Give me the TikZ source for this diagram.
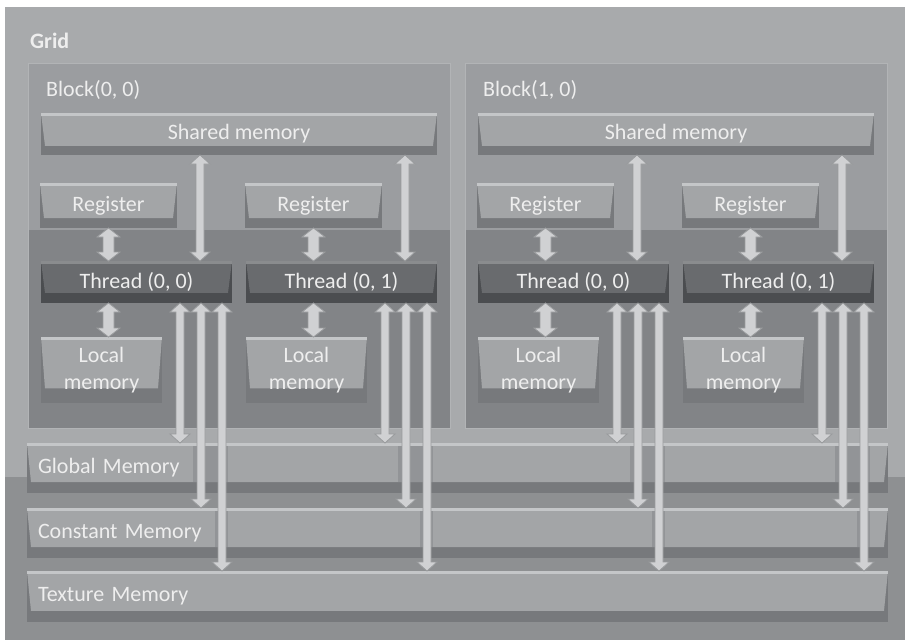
\documentclass[tikz,border=0pt]{standalone}
\usepackage{fontspec}
\setmainfont{Carlito}
\usetikzlibrary{calc}
\definecolor{gridup}{HTML}{A8AAAC}
\definecolor{griddn}{HTML}{8E9092}
\definecolor{blockup}{HTML}{9B9DA0}
\definecolor{blockdn}{HTML}{828487}
\definecolor{blockedge}{HTML}{B2B4B6}
\definecolor{barface}{HTML}{A3A5A7}
\definecolor{barbase}{HTML}{77797C}
\definecolor{barhi}{HTML}{C4C6C8}
\definecolor{barseam}{HTML}{929497}
\definecolor{thrface}{HTML}{696B6E}
\definecolor{thrbase}{HTML}{4B4D50}
\definecolor{thrhi}{HTML}{8A8C8E}
\definecolor{arrfill}{HTML}{D0D1D3}
\definecolor{arredge}{HTML}{999B9D}
\definecolor{txt}{HTML}{EEEEEE}
\newcommand\fs{\fontsize{22}{27}\selectfont}
\newcommand\bidir[5]{%
  \path[arrowsty] let \p1=(#1), \p2=(#2) in
    (\x1,\y1) -- (\x1+#4pt,\y1-#5pt) -- (\x1+#3pt,\y1-#5pt) -- (\x1+#3pt,\y2+#5pt)
    -- (\x1+#4pt,\y2+#5pt) -- (\x1,\y2) -- (\x1-#4pt,\y2+#5pt) -- (\x1-#3pt,\y2+#5pt)
    -- (\x1-#3pt,\y1-#5pt) -- (\x1-#4pt,\y1-#5pt) -- cycle;}
\tikzset{
  box/.style={inner sep=0pt, outer sep=0pt, anchor=north west, text=txt, font=\fs},
  bevel/.style n args={4}{fill=#2, path picture={
      \fill[#1] (path picture bounding box.north west) -- (path picture bounding box.north east)
        -- ($($(path picture bounding box.north east)!#3!(path picture bounding box.south east)$)+(-4pt,0pt)$)
        -- ($($(path picture bounding box.north west)!#3!(path picture bounding box.south west)$)+(4pt,0pt)$)
        -- cycle;
      \fill[#4] (path picture bounding box.north west) rectangle ($(path picture bounding box.north east)+(0pt,-3pt)$);}},
  membar/.style={box, bevel={barface}{barbase}{0.78}{barhi}},
  thrbar/.style={box, bevel={thrface}{thrbase}{0.76}{thrhi}},
  gloss/.style n args={3}{fill=#1, path picture={
      \fill[#2] ($(path picture bounding box.north west)!#3!(path picture bounding box.south west)$) rectangle (path picture bounding box.south east);}},
  arrowsty/.style={fill=arrfill, draw=arredge, line width=0.8pt, line join=miter},
}
\begin{document}
\begin{tikzpicture}[x=1pt,y=-1pt]
\useasboundingbox (0,0) rectangle (908,642);
\fill[white] (0,0) rectangle (908,642);
% grid
\node[box, gloss={gridup}{griddn}{0.742}, minimum width=900pt, minimum height=633pt,
  label={[anchor=west, text=txt, font=\fs\bfseries, xshift=25pt, yshift=-34pt, inner sep=0pt]north west:Grid}]
  (grid) at (5,7) {};
\foreach \b/\o in {0/0,1/437}{
  \node[box, gloss={blockup}{blockdn}{0.457}, draw=blockedge, line width=0.8pt,
    minimum width=422pt, minimum height=365pt,
    label={[anchor=west, text=txt, font=\fs, xshift=18pt, yshift=-27pt, inner sep=0pt]north west:Block(\b, 0)}]
    (blk\b) at (28+\o,63) {};
  \node[membar, minimum width=396pt, minimum height=42pt] (sh\b) at (41+\o,113) {Shared memory};
  \node[membar, minimum width=137pt, minimum height=45pt] (r\b0) at (40+\o,183) {Register};
  \node[membar, minimum width=137pt, minimum height=45pt] (r\b1) at (245+\o,183) {Register};
  \node[thrbar, minimum width=191pt, minimum height=42pt] (t\b0) at (41+\o,261) {Thread (0, 0)};
  \node[thrbar, minimum width=191pt, minimum height=42pt] (t\b1) at (246+\o,261) {Thread (0, 1)};
  \node[membar, align=center, minimum width=121pt, minimum height=66pt] (l\b0) at (41+\o,337) {Local\\memory};
  \node[membar, align=center, minimum width=121pt, minimum height=66pt] (l\b1) at (246+\o,337) {Local\\memory};
}
% global memories
\node[membar, minimum height=50pt, text width=839pt, align=left, inner xsep=11pt] (glob) at (27,443) {Global Memory};
\node[membar, minimum height=50pt, text width=839pt, align=left, inner xsep=11pt] (const) at (27,508) {Constant Memory};
\node[membar, minimum height=51pt, text width=839pt, align=left, inner xsep=11pt] (tex) at (27,571) {Texture Memory};
% seams where arrows pass through
\foreach \tx in {41,246,478,683}{
  \fill[barseam] (\tx+152,446) rectangle (\tx+187,482);
  \fill[barseam] (\tx+174,511) rectangle (\tx+187,547);
}
% arrows
\foreach \b in {0,1}{
  \foreach \t in {0,1}{
    \coordinate (s\b\t) at ([xshift=159pt]t\b\t.north west);
    \coordinate (g\b\t) at ([xshift=139pt]t\b\t.south west);
    \coordinate (c\b\t) at ([xshift=160pt]t\b\t.south west);
    \coordinate (x\b\t) at ([xshift=181pt]t\b\t.south west);
    \bidir{s\b\t |- sh\b.south}{s\b\t}{4}{10}{9}
    \bidir{r\b\t.south}{r\b\t.south |- t\b\t.north}{5.5}{11.5}{9}
    \bidir{r\b\t.south |- t\b\t.south}{r\b\t.south |- l\b\t.north}{5.5}{11.5}{9}
    \bidir{g\b\t}{g\b\t |- glob.north}{4}{10}{9}
    \bidir{c\b\t}{c\b\t |- const.north}{4}{10}{9}
    \bidir{x\b\t}{x\b\t |- tex.north}{4}{10}{9}
  }
}
\end{tikzpicture}
\end{document}
